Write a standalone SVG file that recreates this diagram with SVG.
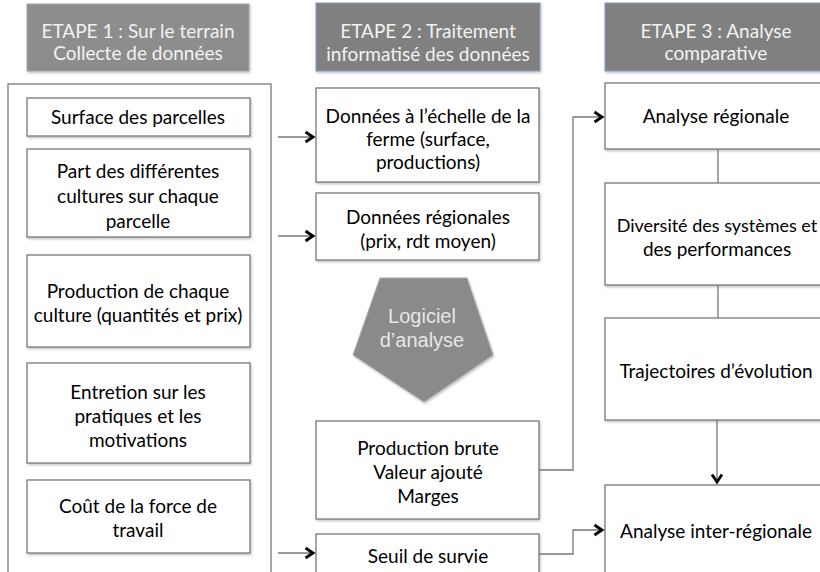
<svg xmlns="http://www.w3.org/2000/svg" width="820" height="572" viewBox="0 0 820 572">
  <style>
    .box { fill: #ffffff; stroke: #6e6e6e; stroke-width: 1.2; }
    .hdr1 { fill: #8d8d8d; stroke: #a3a3a3; stroke-width: 1; }
    .hdr { fill: #808080; stroke: #7f9cc4; stroke-width: 1; }
    .t { font-family: Lato, "Open Sans", sans-serif; font-size: 19px; fill: #000000; text-anchor: middle; }
    .th { font-family: Lato, "Open Sans", sans-serif; font-size: 19px; fill: #f2f2f2; text-anchor: middle; }
    .tp { font-family: "Liberation Sans", Arial, sans-serif; font-size: 20px; fill: #e6e6e6; text-anchor: middle; }
    .ln { fill: none; stroke: #777777; stroke-width: 1.3; }
  </style>
  <defs>
    <filter id="sh" x="-10%" y="-10%" width="130%" height="130%">
      <feDropShadow dx="1" dy="1.5" stdDeviation="1.2" flood-color="#000" flood-opacity="0.25"/>
    </filter>
    <marker id="arr" markerUnits="userSpaceOnUse" markerWidth="14" markerHeight="14" refX="10" refY="7" orient="auto">
      <path d="M2.5,2 L10,7 L2.5,12" fill="none" stroke="#000" stroke-width="2.8" stroke-linejoin="miter"/>
    </marker>
  </defs>

  <!-- Headers -->
  <g id="etape1">
    <rect class="hdr1" x="27" y="4" width="222" height="67" filter="url(#sh)"/>
    <text class="th" x="138" y="38">ETAPE 1 : Sur le terrain</text>
    <text class="th" x="138" y="60">Collecte de données</text>
  </g>
  <g id="etape2">
    <rect class="hdr" x="316" y="3" width="224" height="68" filter="url(#sh)"/>
    <text class="th" x="428" y="38">ETAPE 2 : Traitement</text>
    <text class="th" x="428" y="61">informatisé des données</text>
  </g>
  <g id="etape3">
    <rect class="hdr" x="605" y="3" width="230" height="68" filter="url(#sh)"/>
    <text class="th" x="716" y="38">ETAPE 3 : Analyse</text>
    <text class="th" x="716" y="60">comparative</text>
  </g>

  <!-- Column 1 container -->
  <g id="collecte">
    <rect x="8" y="84" width="263" height="520" fill="#ffffff" stroke="#6e6e6e" stroke-width="1.2"/>
  </g>

  <g id="surface">
    <rect class="box" x="27" y="98" width="223" height="38" filter="url(#sh)"/>
    <text class="t" x="138" y="124">Surface des parcelles</text>
  </g>
  <g id="part">
    <rect class="box" x="27" y="149" width="223" height="88" filter="url(#sh)"/>
    <text class="t" x="138" y="178">Part des différentes</text>
    <text class="t" x="138" y="203">cultures sur chaque</text>
    <text class="t" x="138" y="228">parcelle</text>
  </g>
  <g id="production">
    <rect class="box" x="27" y="255" width="223" height="92" filter="url(#sh)"/>
    <text class="t" x="138" y="298">Production de chaque</text>
    <text class="t" x="138" y="322">culture (quantités et prix)</text>
  </g>
  <g id="entretion">
    <rect class="box" x="27" y="363" width="223" height="100" filter="url(#sh)"/>
    <text class="t" x="138" y="399">Entretion sur les</text>
    <text class="t" x="138" y="423">pratiques et les</text>
    <text class="t" x="138" y="447">motivations</text>
  </g>
  <g id="cout">
    <rect class="box" x="27" y="480" width="223" height="73" filter="url(#sh)"/>
    <text class="t" x="138" y="513">Coût de la force de</text>
    <text class="t" x="138" y="537">travail</text>
  </g>

  <!-- Column 2 -->
  <g id="donnees-ferme">
    <rect class="box" x="316" y="88" width="223" height="94" filter="url(#sh)"/>
    <text class="t" x="428" y="123">Données à l’échelle de la</text>
    <text class="t" x="428" y="146">ferme (surface,</text>
    <text class="t" x="428" y="169">productions)</text>
  </g>
  <g id="donnees-regionales">
    <rect class="box" x="316" y="193" width="223" height="67" filter="url(#sh)"/>
    <text class="t" x="428" y="224">Données régionales</text>
    <text class="t" x="428" y="248">(prix, rdt moyen)</text>
  </g>
  <g id="logiciel">
    <polygon points="380,278 467,278 493,355 424,402 353,355" fill="#8a8a8a" stroke="#a8a8a8" stroke-width="1" filter="url(#sh)"/>
    <text class="tp" x="422" y="323">Logiciel</text>
    <text class="tp" x="422" y="347">d’analyse</text>
  </g>
  <g id="resultats">
    <rect class="box" x="316" y="421" width="223" height="98" filter="url(#sh)"/>
    <text class="t" x="428" y="455">Production brute</text>
    <text class="t" x="428" y="479">Valeur ajouté</text>
    <text class="t" x="428" y="503">Marges</text>
  </g>
  <g id="seuil">
    <rect class="box" x="316" y="534" width="223" height="60" filter="url(#sh)"/>
    <text class="t" x="428" y="563">Seuil de survie</text>
  </g>

  <!-- Column 3 -->
  <g id="analyse-regionale">
    <rect class="box" x="605" y="83" width="230" height="66" filter="url(#sh)"/>
    <text class="t" x="716" y="123">Analyse régionale</text>
  </g>
  <g id="diversite">
    <rect class="box" x="605" y="183" width="230" height="102" filter="url(#sh)"/>
    <text class="t" x="717" y="232" style="font-size:18px">Diversité des systèmes et</text>
    <text class="t" x="717" y="256">des performances</text>
  </g>
  <g id="trajectoires">
    <rect class="box" x="605" y="318" width="230" height="102" filter="url(#sh)"/>
    <text class="t" x="716" y="378">Trajectoires d’évolution</text>
  </g>
  <g id="analyse-inter">
    <rect class="box" x="605" y="485" width="230" height="110" filter="url(#sh)"/>
    <text class="t" x="716" y="538">Analyse inter-régionale</text>
  </g>

  <!-- Connectors -->
  <g id="connectors">
    <line class="ln" x1="278" y1="137" x2="313" y2="137" marker-end="url(#arr)"/>
    <line class="ln" x1="278" y1="236" x2="313" y2="236" marker-end="url(#arr)"/>
    <line class="ln" x1="278" y1="553" x2="313" y2="553" marker-end="url(#arr)"/>
    <polyline class="ln" points="539,470 573,470 573,117 602,117" marker-end="url(#arr)"/>
    <polyline class="ln" points="539,554 573,554 573,530 602,530" marker-end="url(#arr)"/>
    <line class="ln" x1="718" y1="149" x2="718" y2="183"/>
    <line class="ln" x1="718" y1="285" x2="718" y2="318"/>
    <line class="ln" x1="717" y1="420" x2="717" y2="482" marker-end="url(#arr)"/>
  </g>
</svg>
